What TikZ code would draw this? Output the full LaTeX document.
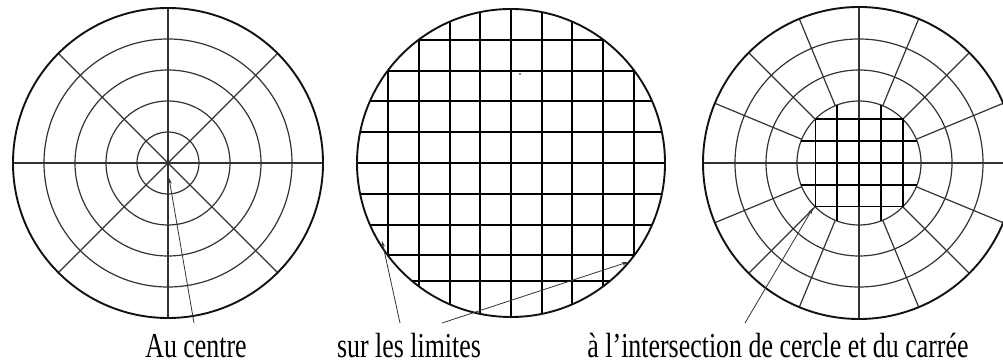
\documentclass[tikz,border=0pt]{standalone}
\usepackage{fontspec}
\setmainfont{Liberation Serif}
\usetikzlibrary{arrows.meta}
\definecolor{discink}{HTML}{111111}
\definecolor{discgray}{HTML}{333333}
\tikzset{
  discrim/.style={draw=discink,line width=1.9pt},
  discring/.style={draw=discgray,line width=1.2pt},
  discgrid/.style={draw=black,line width=1.4pt},
  discpointer/.style={draw=discgray,line width=0.8pt,-{Stealth[length=6pt,width=3.6pt]}},
  disclabel/.style={font=\fontsize{35}{40}\selectfont,xscale=0.74,anchor=base,
    inner sep=0pt,text depth=0pt},
}
\begin{document}
\begin{tikzpicture}[x=1pt,y=-1pt]
        \clip (0,0) rectangle (1003,363);
        % left disc: rings and radii
        \begin{scope}[shift={(168,163)}]
          \foreach \r in {31,62,93,124}
            {\draw[discring] (0,0) circle[radius=\r pt];}
          \foreach \a in {0,45,...,315}
            {\draw[discring] (0,0) -- (\a:155);}
          \draw[discrim] (0,0) circle[radius=155pt];
        \end{scope}
        % middle disc: square grid
        \begin{scope}[shift={(511,163)}]
          \begin{scope}
            \clip (0,0) circle[radius=154pt];
            \foreach \gx in {-123,-92,-61,-31,0,31,61,92,123}
              {\draw[discgrid] (\gx,-160) -- (\gx,160);}
            \foreach \gy in {-123,-92,-62,-31,0,31,62,92,118}
              {\draw[discgrid] (-160,\gy) -- (160,\gy);}
          \end{scope}
          \draw[discrim] (0,0) circle[radius=154pt];
          \fill[discink] (9,-89) circle[radius=0.9pt];
        \end{scope}
        % right disc: rings, spokes and inscribed square
        \begin{scope}[shift={(859,163)}]
          \foreach \r in {62,93,124}
            {\draw[discring] (0,0) circle[radius=\r pt];}
          \foreach \a in {22.5,45,...,337.5}
            {\draw[discring] (\a:62) -- (\a:156);}
          \draw[discring] (-156,0) -- (156,0);
          \draw[discring] (0,-156) -- (0,156);
          \draw[discgrid] (-43.8,-43.8) rectangle (43.8,43.8);
          \foreach \k in {-21.9,21.9}
            {\draw[discgrid] (\k,-58) -- (\k,58);
             \draw[discgrid] (-58,\k) -- (58,\k);}
          \draw[discgrid] (0,-43.8) -- (0,43.8);
          \draw[discgrid] (-43.8,0) -- (43.8,0);
          \draw[discrim] (0,0) circle[radius=156pt];
        \end{scope}
        % labels and pointers
        \node[disclabel] (centre) at (196,357) {Au centre};
        \node[disclabel] (limites) at (409,357) {sur les limites};
        \node[disclabel] (inter) at (778,357) {à l’intersection de cercle et du carrée};
        \coordinate (centretail) at (194,323);
        \coordinate (centretip) at (169,178);
        \coordinate (limtailA) at (400,323);
        \coordinate (limtipA) at (382,241);
        \coordinate (limtailB) at (442,323);
        \coordinate (limtipB) at (628,262);
        \coordinate (intertail) at (745,323);
        \coordinate (intertip) at (813,208);
        \draw[discpointer] (centretail) -- (centretip);
        \draw[discpointer] (limtailA) -- (limtipA);
        \draw[discpointer] (limtailB) -- (limtipB);
        \draw[discpointer] (intertail) -- (intertip);
      \end{tikzpicture}
\end{document}
